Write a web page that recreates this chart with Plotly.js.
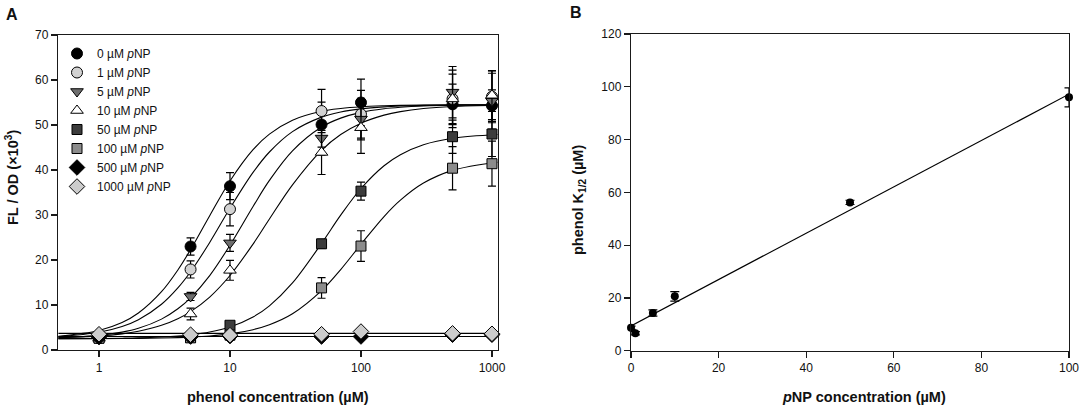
<!DOCTYPE html>
<html>
<head>
<meta charset="utf-8">
<script src="https://cdn.plot.ly/plotly-3.0.1.min.js"></script>
<style>
  body { margin: 0; background: #fff; }
  #myDiv { width: 1084px; height: 412px; }
</style>
</head>
<body>
<div id="myDiv"></div>
<script>
//================ Painel A: resposta ao fenol ================

var fenol = [1, 5, 10, 50, 100, 500, 1000];
var rotulos = ['0', '1', '5', '10', '50', '100', '500', '1000'];

// FL/OD (x10^3) para cada concentracao de pNP
var fl0 = [2.6, 23.0, 36.4, 50.1, 55.0, 54.6, 54.3];
var fl1 = [2.7, 17.9, 31.3, 53.1, 52.4, 55.8, 56.3];
var fl5 = [2.5, 11.9, 23.8, 47.1, 51.3, 57.3, 55.3];
var fl10 = [2.6, 8.0, 17.7, 43.9, 49.4, 55.8, 56.6];
var fl50 = [2.7, 2.8, 5.5, 23.6, 35.3, 47.4, 48.0];
var fl100 = [2.6, 2.7, 3.3, 13.8, 23.1, 40.4, 41.4];
var fl500 = [2.9, 3.0, 3.1, 3.0, 3.0, 3.4, 3.4];
var fl1000 = [3.5, 3.4, 3.3, 3.5, 4.1, 3.7, 3.6];

var err0 = [0.3, 1.9, 3.0, 5.0, 5.2, 4.5, 3.5];
var err1 = [0.3, 1.9, 3.7, 4.8, 5.3, 5.5, 5.8];
var err5 = [0.3, 0.9, 1.9, 3.8, 4.6, 5.7, 6.2];
var err10 = [0.3, 1.3, 2.2, 4.9, 5.7, 6.4, 5.4];
var err50 = [0.2, 0.3, 0.5, 1.0, 2.0, 3.7, 5.0];
var err100 = [0.2, 0.2, 0.3, 2.3, 3.4, 4.8, 5.0];
var err500 = [0.2, 0.2, 0.2, 0.2, 0.2, 0.2, 0.2];
var err1000 = [0.2, 0.2, 0.2, 0.2, 0.2, 0.2, 0.2];

// curvas ajustadas
var curvaX = [0.49, 1, 1.5, 2, 3, 4, 5, 7, 10, 15, 20, 30, 50, 70, 100, 150, 200, 300, 500, 1100];
var curva0 = [3.04, 4.35, 6.11, 8.22, 12.96, 17.79, 22.3, 29.84, 37.57, 44.52, 47.97, 51.07, 53.04, 53.68, 54.06, 54.28, 54.37, 54.43, 54.47, 54.49];
var curva1 = [2.95, 3.93, 5.21, 6.72, 10.16, 13.79, 17.38, 23.9, 31.49, 39.46, 44.0, 48.53, 51.75, 52.89, 53.59, 54.03, 54.21, 54.35, 54.44, 54.48];
var curva5 = [2.74, 3.26, 3.97, 4.82, 6.86, 9.16, 11.6, 16.54, 23.29, 31.89, 37.68, 44.26, 49.54, 51.53, 52.81, 53.62, 53.95, 54.22, 54.38, 54.47];
var curva10 = [2.71, 3.1, 3.59, 4.17, 5.48, 6.95, 8.52, 11.77, 16.56, 23.54, 29.1, 36.71, 44.38, 47.88, 50.41, 52.19, 52.98, 53.66, 54.1, 54.38];
var curva50 = [2.52, 2.56, 2.62, 2.69, 2.88, 3.1, 3.37, 3.99, 5.12, 7.34, 9.82, 14.9, 23.7, 29.97, 35.89, 40.95, 43.4, 45.61, 47.05, 47.88];
var curva100 = [2.51, 2.53, 2.55, 2.58, 2.66, 2.75, 2.86, 3.12, 3.58, 4.52, 5.6, 8.04, 13.18, 17.87, 23.49, 29.66, 33.3, 37.1, 39.92, 41.73];
var retaX = [0.49, 1100];
var reta500 = [3.0, 3.0];
var reta1000 = [3.7, 3.7];

//================ Painel B: K1/2 vs pNP ================

var pnp = [0, 1, 5, 10, 50, 100];
var kMeio = [8.7, 6.6, 14.3, 20.6, 56.2, 96.0];
var kErro = [0.6, 0.6, 1.2, 1.8, 0.8, 3.6];
var ajusteX = [0, 100];
var ajusteY = [9.4, 97.2];

//================ Estilos ================

var simbolos = ['circle', 'circle', 'triangle-down', 'triangle-up', 'square', 'square', 'diamond', 'diamond'];
var cores = ['#000000', '#d2d2d2', '#6e6e6e', '#ffffff', '#3c3c3c', '#8c8c8c', '#000000', '#cccccc'];
var tamanhos = [11, 11, 11, 11, 10, 10, 12, 12];
var fonte = 'Liberation Sans, Arial, sans-serif';

var data = [];

// linhas do ajuste primeiro, marcadores por cima
[curva0, curva1, curva5, curva10, curva50, curva100].forEach(function (c) {
  data.push({x: curvaX, y: c, type: 'scatter', mode: 'lines', showlegend: false, hoverinfo: 'skip',
    line: {color: '#000', width: 1.1, shape: 'spline'}});
});
[reta500, reta1000].forEach(function (c) {
  data.push({x: retaX, y: c, type: 'scatter', mode: 'lines', showlegend: false, hoverinfo: 'skip',
    line: {color: '#000', width: 1.1}});
});

var pontos = [fl0, fl1, fl5, fl10, fl50, fl100, fl500, fl1000];
var erros = [err0, err1, err5, err10, err50, err100, err500, err1000];
pontos.forEach(function (p, i) {
  data.push({
    x: fenol, y: p, type: 'scatter', mode: 'markers', cliponaxis: false,
    name: rotulos[i] + ' µM <i>p</i>NP',
    error_y: {type: 'data', array: erros[i], visible: true, color: '#000', thickness: 1.2, width: 4},
    marker: {symbol: simbolos[i], size: tamanhos[i], color: cores[i], line: {color: '#000', width: 1}}
  });
});

data.push({x: ajusteX, y: ajusteY, xaxis: 'x2', yaxis: 'y2', type: 'scatter', mode: 'lines',
  showlegend: false, line: {color: '#000', width: 1.2}});
data.push({x: pnp, y: kMeio, xaxis: 'x2', yaxis: 'y2', type: 'scatter', mode: 'markers',
  showlegend: false, cliponaxis: false,
  error_y: {type: 'data', array: kErro, visible: true, color: '#000', thickness: 1.2, width: 4.5},
  marker: {symbol: 'circle', size: 8, color: '#000'}});

var eixo = {showline: true, linecolor: '#1a1a1a', linewidth: 1.2, mirror: true, ticks: 'outside',
  ticklen: 6, tickwidth: 1.2, tickcolor: '#1a1a1a', showgrid: false, zeroline: false,
  tickfont: {family: fonte, size: 12, color: '#111'}};

function titulo(txt, x, y, ang, tam) {
  return {text: txt, x: x / 1084, y: 1 - y / 412, xref: 'paper', yref: 'paper', showarrow: false,
    xanchor: 'center', yanchor: 'middle', textangle: ang || 0,
    font: {family: fonte, size: tam || 14.5, color: '#111'}};
}

var layout = {
  width: 1084, height: 412,
  margin: {l: 0, r: 0, t: 0, b: 0},
  paper_bgcolor: '#fff', plot_bgcolor: '#fff',
  font: {family: fonte, color: '#111'},
  xaxis: Object.assign({}, eixo, {domain: [58 / 1084, 498 / 1084], type: 'log', range: [-0.313, 3.046],
    tickvals: [1, 10, 100, 1000], ticktext: ['1', '10', '100', '1000'], anchor: 'y'}),
  yaxis: Object.assign({}, eixo, {domain: [1 - 350 / 412, 1 - 35 / 412], range: [0, 70], dtick: 10, anchor: 'x'}),
  xaxis2: Object.assign({}, eixo, {domain: [631 / 1084, 1069 / 1084], range: [0, 100], dtick: 20, anchor: 'y2'}),
  yaxis2: Object.assign({}, eixo, {domain: [1 - 350.7 / 412, 1 - 34 / 412], range: [0, 120], dtick: 20, anchor: 'x2'}),
  legend: {x: 57 / 1084, y: 1 - 39 / 412, xanchor: 'left', yanchor: 'top', bgcolor: 'rgba(0,0,0,0)',
    tracegroupgap: 0, font: {family: fonte, size: 12, color: '#111'}},
  annotations: [
    titulo('<b>A</b>', 12, 15, 0, 16),
    titulo('<b>B</b>', 576, 13, 0, 16),
    titulo('<b>phenol concentration (µM)</b>', 278, 397),
    titulo('<b><i>p</i>NP concentration (µM)</b>', 864, 397),
    titulo('<b>FL / OD (×10<sup>3</sup>)</b>', 12, 178, -90),
    titulo('<b>phenol K<sub>1/2</sub> (µM)</b>', 579, 200, -90)
  ]
};

Plotly.newPlot('myDiv', data, layout, {staticPlot: true});
</script>
</body>
</html>
